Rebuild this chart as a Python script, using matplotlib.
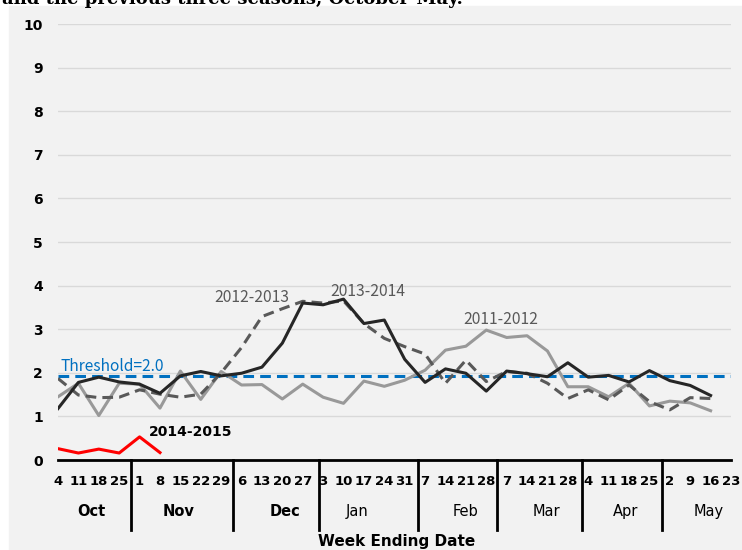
import numpy as np
import matplotlib.pyplot as plt
from matplotlib.transforms import blended_transform_factory
from matplotlib.patches import Rectangle

# week ending dates, Oct 4 - May 23
days = ['4', '11', '18', '25', '1', '8', '15', '22', '29', '6', '13', '20', '27',
        '3', '10', '17', '24', '31', '7', '14', '21', '28', '7', '14', '21', '28',
        '4', '11', '18', '25', '2', '9', '16', '23']
months = ['Oct', 'Nov', 'Dec', 'Jan', 'Feb', 'Mar', 'Apr', 'May']
month_bold = [True, True, True, False, False, False, False, False]

s2011 = [1.45, 1.76, 1.02, 1.76, 1.74, 1.19, 2.04, 1.39, 2.03, 1.72, 1.73, 1.40,
         1.74, 1.44, 1.30, 1.81, 1.69, 1.83, 2.06, 2.52, 2.61, 2.98, 2.81, 2.85,
         2.50, 1.68, 1.68, 1.45, 1.76, 1.24, 1.35, 1.31, 1.13]
s2012 = [1.87, 1.49, 1.43, 1.44, 1.61, 1.51, 1.44, 1.51, 2.00, 2.58, 3.29, 3.47,
         3.64, 3.60, 3.65, 3.13, 2.79, 2.60, 2.43, 1.76, 2.29, 1.80, 2.03, 1.99,
         1.76, 1.41, 1.61, 1.38, 1.72, 1.34, 1.15, 1.43, 1.41]
s2013 = [1.18, 1.78, 1.90, 1.79, 1.74, 1.53, 1.93, 2.03, 1.93, 1.99, 2.13, 2.68,
         3.60, 3.56, 3.69, 3.13, 3.21, 2.31, 1.78, 2.09, 1.99, 1.58, 2.04, 1.98,
         1.91, 2.23, 1.90, 1.94, 1.79, 2.05, 1.82, 1.71, 1.48]
s2014 = [0.26, 0.16, 0.25, 0.16, 0.53, 0.17]
threshold = 1.92

fig = plt.figure(figsize=(7.42, 5.5), dpi=100)
fig.patches.append(Rectangle((9 / 742, 0), 1, 544 / 550, transform=fig.transFigure,
                             color='#f2f2f2', zorder=-10))
# title is partly cut off at the top edge, as in the source
fig.text(0.003, 1 - 4 / 550, 'and the previous three seasons, October-May.',
         family='DejaVu Serif', weight='bold', fontsize=13, va='baseline')

ax = fig.add_axes([58 / 742, 90 / 550, 673 / 742, 436 / 550])
ax.set_facecolor('#f2f2f2')
x = np.arange(len(days))

ax.set_ylim(0, 10)
ax.set_xlim(0, len(days) - 1)
ax.set_yticks(range(11))
ax.grid(axis='y', color='#d9d9d9', lw=1)
ax.set_axisbelow(True)
for sp in ['top', 'right', 'left']:
    ax.spines[sp].set_visible(False)
ax.spines['bottom'].set_linewidth(2)
ax.tick_params(length=0)
ax.tick_params(axis='y', pad=11, labelsize=10)
ax.tick_params(axis='x', pad=11, labelsize=9.5)
ax.set_xticks(x)
ax.set_xticklabels(days, fontweight='bold')
for t in ax.get_yticklabels():
    t.set_fontweight('bold')

ax.axhline(threshold, color='#0070c0', lw=2.2, ls=(0, (3.5, 2)), zorder=2)
ax.plot(x[:len(s2011)], s2011, color='#999999', lw=2.2, zorder=3)
ax.plot(x[:len(s2012)], s2012, color='#595959', lw=2.2, ls=(0, (3.5, 2)), zorder=3)
ax.plot(x[:len(s2013)], s2013, color='#262626', lw=2.2, zorder=4)
ax.plot(x[:len(s2014)], s2014, color='#ff0000', lw=2.2, zorder=5)

lbl = dict(family=['Noto Sans CJK KR', 'DejaVu Sans'], fontsize=11.3, color='#595959')
ax.text(9.5, 3.72, '2012-2013', ha='center', va='center', **lbl)
ax.text(15.2, 3.86, '2013-2014', ha='center', va='center', **lbl)
ax.text(21.7, 3.23, '2011-2012', ha='center', va='center', **lbl)
ax.text(0.1, 2.14, 'Threshold=2.0', ha='left', va='center',
        family=['Noto Sans CJK KR', 'DejaVu Sans'], fontsize=11.2, color='#0070c0')
ax.text(4.46, 0.64, '2014-2015', ha='left', va='center', fontsize=10,
        fontweight='bold', color='black')

# month groups below the week labels
trans = blended_transform_factory(ax.transData, ax.transAxes)
seps = [3.6, 8.6, 12.8, 17.65, 21.55, 25.7, 29.6]
for s in seps:
    ax.plot([s, s], [0, -0.16], color='black', lw=2, transform=trans, clip_on=False)
month_x = [1.65, 5.9, 11.15, 14.65, 20.0, 23.95, 27.85, 31.9]
for m, mx, b in zip(months, month_x, month_bold):
    ax.text(mx, -0.119, m, transform=trans, ha='center', va='center', fontsize=10.5,
            fontweight='bold' if b else 'normal')

ax.text(16.6, -0.186, 'Week Ending Date', transform=trans, ha='center', va='center',
        fontsize=11, fontweight='bold')

fig.savefig('out.png', dpi=100)
